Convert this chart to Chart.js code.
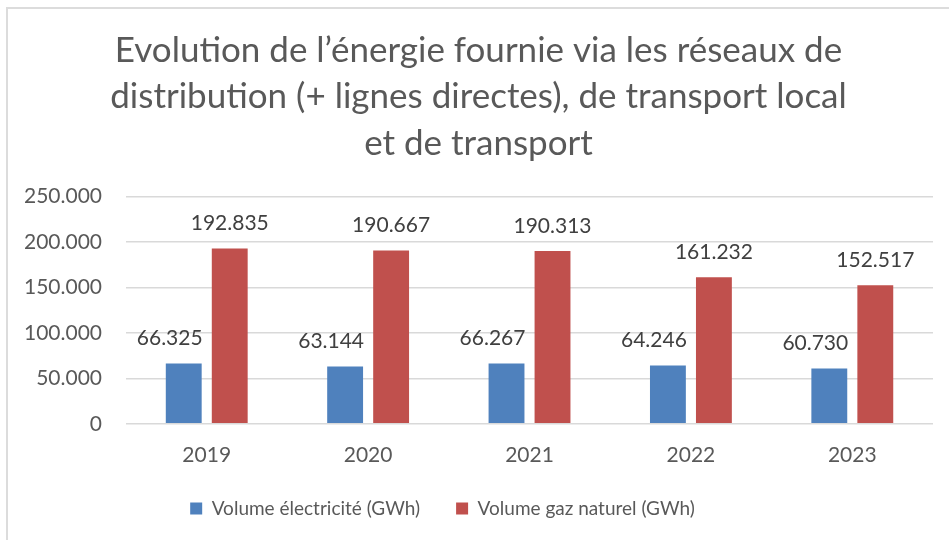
<!DOCTYPE html>
<html>
<head>
<meta charset="utf-8">
<script src="https://cdn.jsdelivr.net/npm/chart.js@4/dist/chart.umd.min.js"></script>
<style>
    body { margin: 0; background: #fff; }
    #cadre {
        position: absolute; left: 6px; top: 7px; width: 1000px; height: 600px;
        border-left: 2px solid #dcdcdc; border-top: 2px solid #dcdcdc;
    }
    #wrap { position: absolute; left: 0; top: 0; width: 949px; height: 540px; }
</style>
</head>
<body>
<div id="cadre"></div>
<div id="wrap"><canvas id="energieChart" width="949" height="540"></canvas></div>
<script>
// Données
const annees = ['2019', '2020', '2021', '2022', '2023'];
const volumeElectricite = [66325, 63144, 66267, 64246, 60730];
const volumeGaz = [192835, 190667, 190313, 161232, 152517];
const titre = [
    'Evolution de l\u2019énergie fournie via les réseaux de',
    'distribution (+ lignes directes), de transport local',
    'et de transport'
];

const police = 'Lato, "Open Sans", sans-serif';

// Format belge : 250.000
function formatNombre(v) {
    return String(v).replace(/\B(?=(\d{3})+(?!\d))/g, '.');
}

// Étiquettes de valeur au-dessus des barres
const etiquettesValeurs = {
    id: 'etiquettesValeurs',
    afterDatasetsDraw(chart) {
        const ctx = chart.ctx;
        chart.data.datasets.forEach((ds, i) => {
            const meta = chart.getDatasetMeta(i);
            meta.data.forEach((barre, j) => {
                ctx.save();
                ctx.font = '21px ' + police;
                ctx.fillStyle = '#404040';
                ctx.textAlign = 'center';
                ctx.textBaseline = 'middle';
                const decalage = i === 0 ? -14 : 0;
                ctx.fillText(formatNombre(ds.data[j]), barre.x + decalage, barre.y - 25);
                ctx.restore();
            });
        });
    }
};

// Petits décalages de la légende et du titre, comme dans l'original
const decalages = {
    id: 'decalages',
    afterLayout(chart) {
        chart.legend.left -= 24;
        chart.legend.right -= 24;
        chart.legend.top -= 16;
        chart.titleBlock.left += 12;
        chart.titleBlock.right += 12;
    }
};

const ctx = document.getElementById('energieChart').getContext('2d');
const energieChart = new Chart(ctx, {
    type: 'bar',
    data: {
        labels: annees,
        datasets: [
            {
                label: 'Volume électricité (GWh)',
                data: volumeElectricite,
                backgroundColor: '#4f81bd',
                barPercentage: 0.78,
                categoryPercentage: 0.57
            },
            {
                label: 'Volume gaz naturel (GWh)',
                data: volumeGaz,
                backgroundColor: '#c0504d',
                barPercentage: 0.78,
                categoryPercentage: 0.57
            }
        ]
    },
    options: {
        responsive: false,
        animation: false,
        layout: { padding: { left: 0, right: 16, top: 16, bottom: 0 } },
        plugins: {
            title: {
                display: true,
                text: titre,
                color: '#595959',
                font: { family: police, size: 35, weight: 'normal', lineHeight: 1.33 },
                padding: { top: 11, bottom: 30 }
            },
            legend: {
                position: 'bottom',
                maxHeight: 61,
                labels: {
                    color: '#595959',
                    font: { family: police, size: 19 },
                    boxWidth: 12,
                    boxHeight: 12,
                    padding: 36
                }
            },
            tooltip: { enabled: false }
        },
        scales: {
            x: {
                grid: { display: false },
                border: { display: false },
                ticks: { color: '#595959', font: { family: police, size: 21 }, padding: 11 }
            },
            y: {
                min: 0,
                max: 250000,
                ticks: {
                    stepSize: 50000,
                    color: '#595959',
                    font: { family: police, size: 21 },
                    padding: 24,
                    callback: v => formatNombre(v)
                },
                grid: { color: '#d9d9d9', lineWidth: 1.5, drawTicks: false },
                border: { display: false }
            }
        }
    },
    plugins: [etiquettesValeurs, decalages]
});
</script>
</body>
</html>
